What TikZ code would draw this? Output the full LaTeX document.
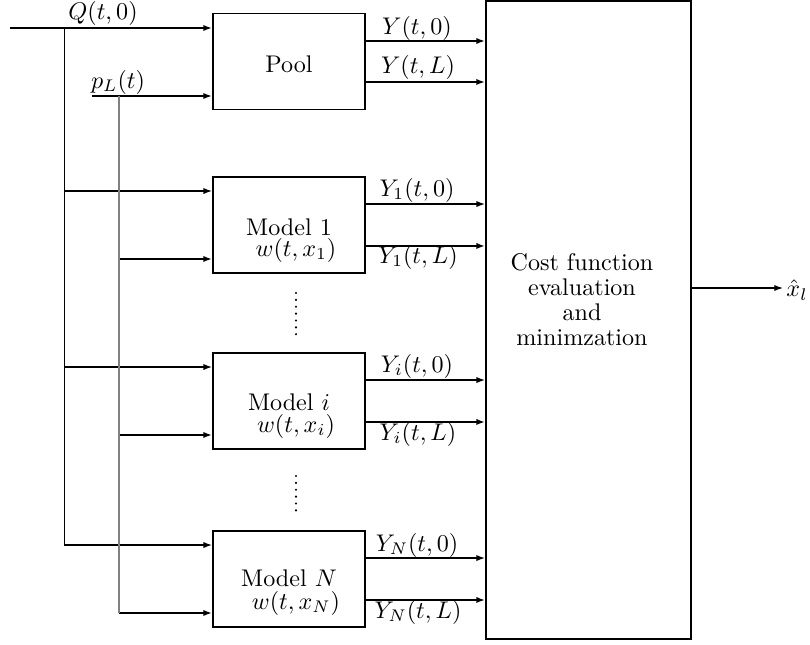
\documentclass[tikz,border=0pt]{standalone}
\usetikzlibrary{arrows.meta}
\begin{document}
\begin{tikzpicture}[x=0.415pt,y=-0.415pt,
  box/.style={draw,line width=0.75pt,minimum width=63.1pt,minimum height=39.8pt,inner sep=0},
  thinl/.style={line width=0.55pt},
  midl/.style={line width=0.75pt},
  thkl/.style={line width=0.95pt},
  arr/.style={-{Latex[length=3.6pt,width=2.6pt]}},
  lbl/.style={inner sep=0},
  dotsty/.style={line width=1pt,line cap=round,dash pattern=on 0pt off 2.85pt}]
\useasboundingbox (0,0) rectangle (810,645);

% boxes
\node[box] (pool) at (289,61.5) {};
\node[lbl] (pooltxt) at (289,64) {Pool};
\node[box] (m1) at (289,225) {};
\node[box] (mi) at (289,401) {};
\node[box] (mN) at (289,579) {};
\node[draw,line width=0.75pt,minimum width=85.1pt,minimum height=264.8pt,inner sep=0] (cost) at (588.5,320) {};

\node[lbl] (m1t) at (289,227) {Model 1};
\node[lbl] (m1w) at (296,250) {$w(t,x_1)$};
\node[lbl] (mit) at (289,402) {Model $i$};
\node[lbl] (miw) at (296,426) {$w(t,x_i)$};
\node[lbl] (mNt) at (289,578) {Model $N$};
\node[lbl] (mNw) at (296,603) {$w(t,x_N)$};

\node[align=center,lbl] (costtxt) at (582,300) {Cost function\\[-1.6pt]evaluation\\[-1.6pt]and\\[-1.6pt]minimzation};

% inputs to pool
\coordinate (qin) at (10,28);
\coordinate (qv) at (64,28);
\coordinate (pin) at (92,96);
\coordinate (pv) at (119,96);
\draw[thkl,arr] (qin) -- (qin -| pool.west);
\draw[thkl,arr] (pin) -- (pin -| pool.west);
\node[lbl] (qlbl) at (103,13) {$Q(t,0)$};
\node[lbl] (plbl) at (118,82) {$p_L(t)$};

% pool outputs
\coordinate (pa) at ([yshift=8.5pt]pool.east);
\coordinate (pb) at ([yshift=-8.5pt]pool.east);
\draw[thkl,arr] (pa) -- (pa -| cost.west);
\draw[thkl,arr] (pb) -- (pb -| cost.west);
\node[lbl] (ya) at (417,28) {$Y(t,0)$};
\node[lbl] (yb) at (418,67) {$Y(t,L)$};

% model connectors
\foreach \m in {m1,mi,mN} {
  \coordinate (\m-a) at ([yshift=14.1pt]\m.west);
  \coordinate (\m-b) at ([yshift=-14.1pt]\m.west);
  \draw[thinl,arr] (qv |- \m-a) -- (\m-a);
  \draw[thkl,arr] (pv |- \m-b) -- (\m-b);
  \coordinate (\m-c) at ([yshift=8.7pt]\m.east);
  \coordinate (\m-d) at ([yshift=-8.7pt]\m.east);
  \draw[thinl,arr] (\m-c) -- (\m-c -| cost.west);
  \draw[midl,arr] (\m-d) -- (\m-d -| cost.west);
}
\draw[line width=0.35pt] (qv) -- (qv |- mN-a);
\draw[line width=0.45pt,gray] (pv) -- (pv |- mN-b);

\node[lbl] (y1a) at (417,190) {$Y_1(t,0)$};
\node[lbl] (y1b) at (418,257) {$Y_1(t,L)$};
\node[lbl] (yia) at (417,366) {$Y_i(t,0)$};
\node[lbl] (yib) at (418,434) {$Y_i(t,L)$};
\node[lbl] (yNa) at (417,545) {$Y_N(t,0)$};
\node[lbl] (yNb) at (418,612) {$Y_N(t,L)$};

% dots
\draw[dotsty] (296,293) -- (296,341);
\draw[dotsty] (296,476) -- (296,517);

% output
\coordinate (xend) at (783,288);
\draw[thinl,arr] (cost.east |- xend) -- (xend);
\node[lbl,anchor=west] (xl) at (786,290) {$\hat{x}_l$};
\end{tikzpicture}
\end{document}
